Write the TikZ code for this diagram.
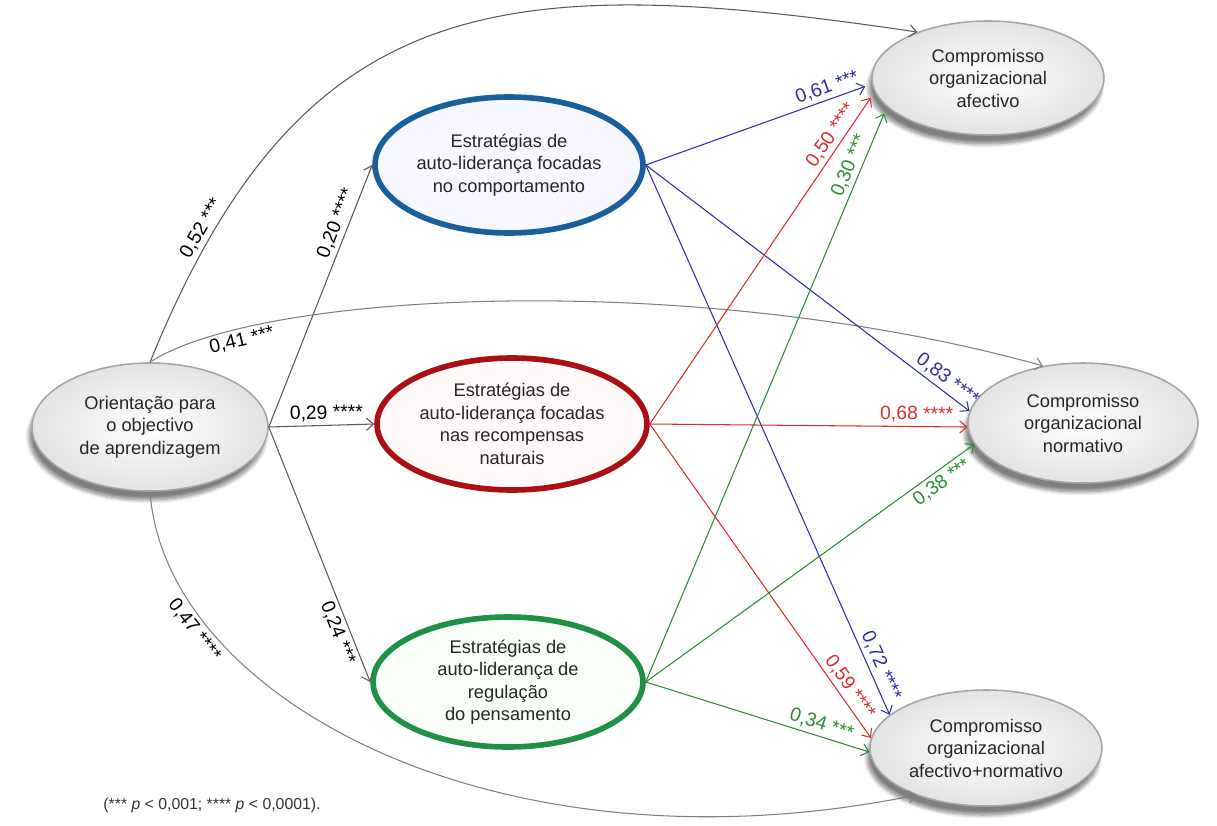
\documentclass[tikz,border=0pt]{standalone}
\usepackage{fontspec}
\setmainfont{Liberation Sans}
\usetikzlibrary{arrows.meta,shapes.geometric,shadows.blur}
\definecolor{cblue}{RGB}{45,45,170}
\definecolor{cred}{RGB}{220,45,45}
\definecolor{cgreen}{RGB}{45,140,50}
\definecolor{ringB}{RGB}{25,95,155}
\definecolor{ringR}{RGB}{170,15,20}
\definecolor{ringG}{RGB}{30,145,70}
\tikzset{
  lat/.style  ={ellipse,draw=gray!70,line width=0.9pt,inner sep=0pt,align=center,
                font=\fontsize{10.4}{12.8}\selectfont,text=black!85,
                inner color=white,outer color=gray!22,
                blur shadow={shadow xshift=-0.6mm,shadow yshift=-1.8mm,shadow opacity=50,shadow blur steps=10}},
  strat/.style={ellipse,line width=3.2pt,inner sep=0pt,align=center,
                font=\fontsize{10.4}{12.8}\selectfont,text=black!85},
  ar/.style   ={-{Straight Barb[length=4pt,width=7pt]},line width=0.6pt},
  lbl/.style  ={font=\fontsize{11}{13}\selectfont,inner sep=2pt,sloped},
  tag/.style  ={font=\fontsize{9}{11}\selectfont,text=black!80},
}
\begin{document}
\begin{tikzpicture}[x=0.02cm,y=-0.02cm]
  \useasboundingbox (0,0) rectangle (1217,825);
  % latent variables
  \node[lat,minimum width=4.72cm,minimum height=2.56cm] (goal) at (150,427)
    {Orientação para\\o objectivo\\de aprendizagem};
  \node[strat,draw=ringB,fill=blue!3,minimum width=5.36cm,minimum height=2.72cm] (beh) at (509,165)
    {Estratégias de\\auto-liderança focadas\\no comportamento};
  \node[strat,draw=ringR,fill=red!2,minimum width=5.4cm,minimum height=2.64cm] (nat) at (512,424)
    {Estratégias de\\auto-liderança focadas\\nas recompensas\\naturais};
  \node[strat,draw=ringG,fill=green!2,minimum width=5.4cm,minimum height=2.6cm] (tho) at (508,682)
    {Estratégias de\\auto-liderança de\\regulação\\do pensamento};
  \node[lat,minimum width=4.64cm,minimum height=2.28cm] (aff) at (988,78)
    {Compromisso\\organizacional\\afectivo};
  \node[lat,minimum width=4.6cm,minimum height=2.4cm] (nor) at (1083,423)
    {Compromisso\\organizacional\\normativo};
  \node[lat,minimum width=4.64cm,minimum height=2.32cm] (afn) at (986,748)
    {Compromisso\\organizacional\\afectivo+normativo};

  % from goal orientation
  \begin{scope}[draw=black!65]
    \draw[ar] (goal.east) -- node[lbl,above,pos=.76]{0,20 ****} (beh.west);
    \draw[ar] (goal.east) -- node[lbl,above,pos=.55]{0,29 ****} (nat.west);
    \draw[ar] (goal.east) -- node[lbl,below,pos=.79]{0,24 ***} (tho.west);
    \draw[ar] (goal.north) .. controls (301,-10) and (500,-30) .. node[lbl,above,pos=.13]{0,52 ***} (aff.147);
    \draw[ar,draw=black!50] (goal.north) .. controls (260,290) and (700,270) .. node[lbl,below,pos=.18]{0,41 ***} (nor.125);
    \draw[ar,draw=black!50] (goal.south) .. controls (165,700) and (500,880) .. node[lbl,below,pos=.22]{0,47 ****} (afn.214);
  \end{scope}

  % behaviour-focused
  \draw[ar,cblue,shorten >=4pt] (beh.east) -- node[lbl,above,pos=.82]{0,61 ***} (aff.183);
  \draw[ar,cblue] (beh.east) -- node[lbl,above,pos=.91]{0,83 ****} (nor.174);
  \draw[ar,cblue] (beh.east) -- node[lbl,above,pos=.92]{0,72 ****} (afn.161);
  % natural rewards
  \draw[ar,cred,shorten >=4pt] (nat.east) -- node[lbl,above,pos=.85]{0,50 ****} (aff.187);
  \draw[ar,cred] (nat.east) -- node[lbl,above,pos=.84]{0,68 ****} (nor.182);
  \draw[ar,cred] (nat.east) -- node[lbl,above,pos=.86]{0,59 ****} (afn.175);
  % thought regulation
  \draw[ar,cgreen,shorten >=4pt] (tho.east) -- node[lbl,above,pos=.89]{0,30 ***} (aff.196);
  \draw[ar,cgreen] (tho.east) -- node[lbl,below,pos=.88]{0,38 ***} (nor.191);
  \draw[ar,cgreen] (tho.east) -- node[lbl,above,pos=.77]{0,34 ***} (afn.182);

  \node[tag] (note) at (212,805) {(*** \textit{p} < 0,001; **** \textit{p} < 0,0001).};
\end{tikzpicture}
\end{document}
